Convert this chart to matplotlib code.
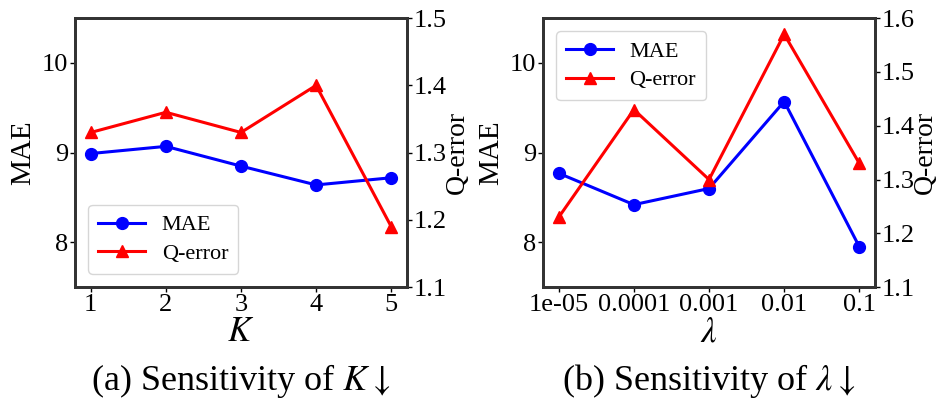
import matplotlib
matplotlib.use("Agg")
import matplotlib.pyplot as plt

plt.rcParams['font.family'] = ['Liberation Serif', 'DejaVu Serif']
plt.rcParams['mathtext.fontset'] = 'stix'

k_labels = ["1", "2", "3", "4", "5"]
k_mae = [8.99, 9.07, 8.85, 8.64, 8.72]
k_qerr = [1.33, 1.36, 1.33, 1.40, 1.19]

lam_labels = ["1e-05", "0.0001", "0.001", "0.01", "0.1"]
lam_mae = [8.77, 8.42, 8.60, 9.57, 7.95]
lam_qerr = [1.23, 1.43, 1.30, 1.57, 1.33]

fig = plt.figure(figsize=(9.41, 4.12), dpi=100)

def panel(rect, labels, mae, qerr, xlabel, q_lim, q_ticks, legend_loc, caption):
    ax = fig.add_axes(rect)
    x = list(range(len(labels)))
    l1, = ax.plot(x, mae, color='blue', marker='o', markersize=8.5, linewidth=2.2, label='MAE')
    ax.set_ylim(7.5, 10.5)
    ax.set_yticks([8, 9, 10])
    ax.set_xticks(x)
    ax.set_xticklabels(labels)
    ax.set_xlim(-0.21, len(labels) - 1 + 0.21)
    ax.set_ylabel('MAE', fontsize=21, labelpad=4)
    ax.set_xlabel(xlabel, fontsize=25, labelpad=0)
    ax.tick_params(labelsize=19, length=3.5, width=1, pad=1.5)
    ax2 = ax.twinx()
    l2, = ax2.plot(x, qerr, color='red', marker='^', markersize=8.5, linewidth=2.2, label='Q-error')
    ax2.set_ylim(*q_lim)
    ax2.set_yticks(q_ticks)
    ax2.set_yticklabels([f"{t:.1f}" for t in q_ticks])
    ax2.set_ylabel('Q-error', fontsize=20, labelpad=-1)
    ax2.tick_params(labelsize=19, length=3.5, width=1, pad=1)
    for a in (ax, ax2):
        for s in a.spines.values():
            s.set_linewidth(2)
            s.set_color('#333333')
    ax.legend(handles=[l1, l2], loc=legend_loc, fontsize=16, frameon=True,
              borderaxespad=0.6, handlelength=2.1, labelspacing=0.35,
              borderpad=0.45, handletextpad=0.75)
    cx = rect[0] + rect[2] / 2
    fig.text(cx, 0.075, caption, ha='center', va='center', fontsize=26)

panel([0.0797, 0.303, 0.3528, 0.653], k_labels, k_mae, k_qerr, '$K$',
      (1.1, 1.5), [1.1, 1.2, 1.3, 1.4, 1.5], 'lower left',
      r'(a) Sensitivity of $K\downarrow$')
panel([0.577, 0.303, 0.353, 0.653], lam_labels, lam_mae, lam_qerr, r'$\lambda$',
      (1.1, 1.6), [1.1, 1.2, 1.3, 1.4, 1.5, 1.6], 'upper left',
      r'(b) Sensitivity of $\lambda\downarrow$')

fig.savefig('out.png', dpi=100)
